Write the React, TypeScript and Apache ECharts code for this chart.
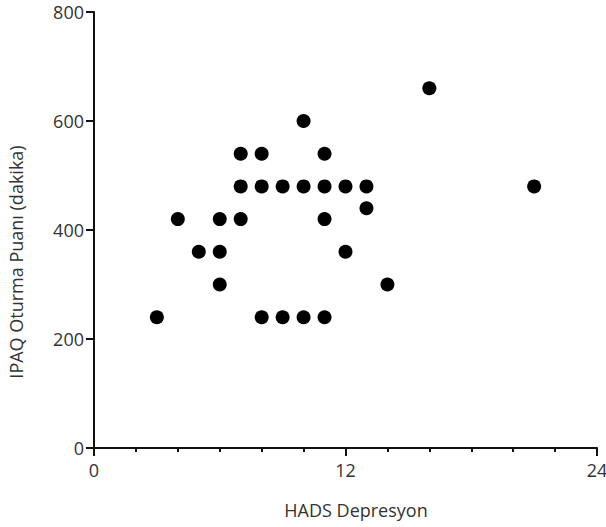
import React, { useEffect, useRef } from "react";
import * as echarts from "echarts";

const xValues = [3, 4, 5, 6, 6, 6, 7, 7, 7, 8, 8, 8, 9, 9, 10, 10, 10, 11, 11, 11, 11, 12, 12, 13, 13, 14, 16, 21];
const yValues = [240, 420, 360, 420, 360, 300, 540, 480, 420, 540, 480, 240, 480, 240, 600, 480, 240, 540, 480, 420, 240, 480, 360, 480, 440, 300, 660, 480];
const xTitle = "HADS Depresyon";
const yTitle = "IPAQ Oturma Puanı (dakika)";

export default function App() {
  const ref = useRef<HTMLDivElement>(null);
  useEffect(() => {
    if (!ref.current) return;
    const chart = echarts.init(ref.current, undefined, { renderer: "svg" });
    const font = "'Open Sans', sans-serif";
    const data = xValues.map((x, i) => [x, yValues[i]]);
    chart.setOption({
      animation: false,
      grid: { left: 94, right: 9, top: 12, bottom: 79, outerBoundsMode: "none", containLabel: false },
      graphic: [
        {
          type: "text",
          x: 356,
          y: 510,
          style: {
            text: xTitle,
            font: `18px ${font}`,
            fill: "#333",
            textAlign: "center",
            textVerticalAlign: "middle",
          },
        },
        {
          type: "text",
          x: 16,
          y: 262,
          rotation: Math.PI / 2,
          style: {
            text: yTitle,
            font: `18px ${font}`,
            fill: "#333",
            textAlign: "center",
            textVerticalAlign: "middle",
          },
        },
      ],
      xAxis: {
        type: "value",
        min: 0,
        max: 24,
        interval: 12,
        axisLine: { lineStyle: { color: "#111", width: 2 } },
        axisTick: { length: 8, lineStyle: { color: "#111", width: 2 } },
        minorTick: { show: true, splitNumber: 6, length: 4, lineStyle: { color: "#111", width: 2 } },
        axisLabel: { fontFamily: font, fontSize: 18, color: "#333", margin: 13 },
        splitLine: { show: false },
      },
      yAxis: {
        type: "value",
        min: 0,
        max: 800,
        interval: 200,
        axisLine: { show: true, lineStyle: { color: "#111", width: 2 } },
        axisTick: { show: true, length: 8, lineStyle: { color: "#111", width: 2 } },
        axisLabel: { fontFamily: font, fontSize: 18, lineHeight: 18, color: "#333", margin: 10 },
        splitLine: { show: false },
      },
      series: [
        {
          type: "scatter",
          data,
          symbol: "circle",
          symbolSize: 14,
          itemStyle: { color: "#000", opacity: 1 },
        },
      ],
    });
    return () => chart.dispose();
  }, []);
  return (
    <div
      ref={ref}
      style={{ position: "absolute", left: 0, top: 0, width: 606, height: 527, background: "#fff" }}
    />
  );
}
